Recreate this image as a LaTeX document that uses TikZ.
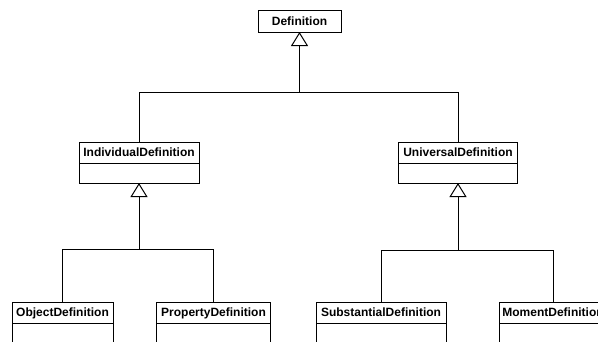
\documentclass[tikz,border=0pt]{standalone}
\usepackage{fontspec}
\setmainfont{Liberation Sans}
\usetikzlibrary{arrows.meta}
\tikzset{
  cls/.style={draw, line width=1pt, rectangle, inner sep=0pt, outer sep=0pt,
    minimum height=21pt, text height=8.6pt, text depth=0pt,
    font=\bfseries\fontsize{12}{14}\selectfont},
  attr/.style={draw, line width=1pt, rectangle, inner sep=0pt, outer sep=0pt, anchor=north},
  link/.style={line width=1pt},
  gen/.style={line width=1pt, -{Triangle[open, width=17pt, length=14pt, line width=1pt]}}
}
\begin{document}
\begin{tikzpicture}[x=1pt, y=-1pt]
\useasboundingbox (0,0) rectangle (598,341);
\clip (0,0) rectangle (598,341);
% top class
\node[cls, minimum width=83pt, minimum height=22pt] (def) at (299.5,21) {Definition};
% middle classes
\node[cls, minimum width=120pt] (ind) at (139,152.5) {IndividualDefinition};
\node[attr, minimum width=120pt, minimum height=20pt] (inda) at (ind.south) {};
\node[cls, minimum width=119pt] (uni) at (458,152.5) {UniversalDefinition};
\node[attr, minimum width=119pt, minimum height=20pt] (unia) at (uni.south) {};
% bottom classes
\node[cls, minimum width=101pt] (obj) at (62.5,312.5) {ObjectDefinition};
\node[attr, minimum width=101pt, minimum height=30pt] (obja) at (obj.south) {};
\node[cls, minimum width=114pt] (prop) at (213.5,312.5) {PropertyDefinition};
\node[attr, minimum width=114pt, minimum height=30pt] (propa) at (prop.south) {};
\node[cls, minimum width=130pt] (sub) at (381,312.5) {SubstantialDefinition};
\node[attr, minimum width=130pt, minimum height=30pt] (suba) at (sub.south) {};
\node[cls, minimum width=108pt] (mom) at (553,312.5) {MomentDefinition};
\node[attr, minimum width=108pt, minimum height=30pt] (moma) at (mom.south) {};
% junction points
\coordinate (j0) at (def.south |- 0,92.5);
\coordinate (j1) at (inda.south |- 0,249.5);
\coordinate (j2) at (unia.south |- 0,250);
% generalisations
\draw[link] (ind.north) |- (j0);
\draw[link] (uni.north) |- (j0);
\draw[gen] (j0) -- (def.south);
\draw[link] (obj.north) |- (j1);
\draw[link] (prop.north) |- (j1);
\draw[gen] (j1) -- (inda.south);
\draw[link] (sub.north) |- (j2);
\draw[link] (mom.north) |- (j2);
\draw[gen] (j2) -- (unia.south);
\end{tikzpicture}
\end{document}
